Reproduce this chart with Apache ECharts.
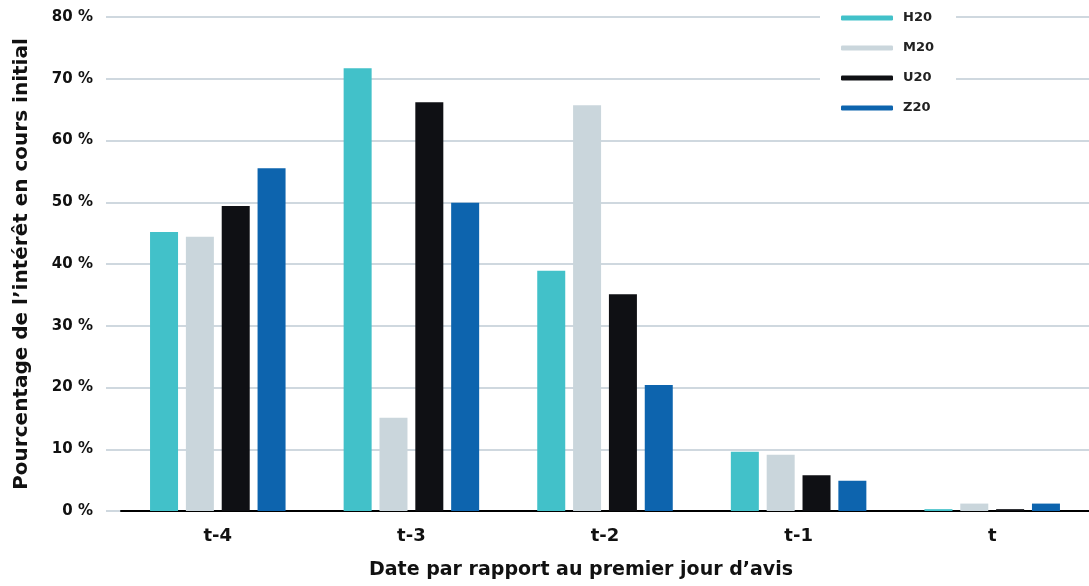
<!DOCTYPE html>
<html>
<head>
<meta charset="utf-8">
<script src="https://cdn.jsdelivr.net/npm/echarts@6/dist/echarts.min.js"></script>
<style>
  html, body { margin: 0; padding: 0; background: #fff; }
  #container { width: 1089px; height: 586px; }
</style>
</head>
<body>
<div id="container"></div>
<script>
var categories = ['t-4', 't-3', 't-2', 't-1', 't'];
var seriesNames = ['H20', 'M20', 'U20', 'Z20'];
var h20 = [45.2, 71.7, 38.9, 9.6, 0.3];
var m20 = [44.4, 15.1, 65.7, 9.1, 1.2];
var u20 = [49.4, 66.2, 35.1, 5.8, 0.3];
var z20 = [55.5, 49.9, 20.4, 4.9, 1.2];
var colors = ['#42c1c9', '#cad6dc', '#0f1014', '#0d64ae'];

var dom = document.getElementById('container');
var myChart = echarts.init(dom);
var font = 'DejaVu Sans';

function bar(name, data, color) {
    return {
        name: name,
        type: 'bar',
        xAxisIndex: 1,
        yAxisIndex: 1,
        barWidth: 28,
        barGap: '28%',
        itemStyle: { color: color },
        data: data
    };
}

var option = {
    animation: false,
    textStyle: { fontFamily: font },
    title: {
        text: 'Date par rapport au premier jour d’avis',
        left: 369,
        top: 561,
        padding: 0,
        textStyle: { fontFamily: font, fontSize: 19, fontWeight: 'bold', color: '#111' }
    },
    legend: {
        orient: 'vertical',
        left: 820,
        top: 0,
        padding: [10, 22, 12, 21],
        backgroundColor: '#fff',
        itemWidth: 52,
        itemHeight: 5,
        itemGap: 14,
        icon: 'roundRect',
        data: seriesNames,
        textStyle: { fontFamily: font, fontSize: 13, fontWeight: 'bold', color: '#222', lineHeight: 16, padding: [0, 0, 0, 5] }
    },
    grid: [
        { left: 106, right: 0, top: 17, bottom: 75 },
        { left: 121, width: 978, top: 17, bottom: 75 }
    ],
    xAxis: [
        { gridIndex: 0, type: 'value', show: false },
        {
            gridIndex: 1,
            type: 'category',
            data: categories,
            axisLine: { lineStyle: { color: '#000', width: 2 } },
            axisTick: { show: false },
            axisLabel: { margin: 16, fontSize: 18, fontWeight: 'bold', color: '#111', fontFamily: font }
        }
    ],
    yAxis: [
        {
            gridIndex: 0,
            type: 'value',
            min: 0,
            max: 80,
            interval: 10,
            name: 'Pourcentage de l’intérêt en cours initial',
            nameLocation: 'middle',
            nameGap: 74,
            nameTextStyle: { fontSize: 20, fontWeight: 'bold', color: '#111', fontFamily: font },
            axisLine: { show: false },
            axisTick: { show: false },
            axisLabel: { margin: 13, fontSize: 15, fontWeight: 'bold', color: '#111', fontFamily: font, formatter: '{value} %' },
            splitLine: { lineStyle: { color: '#cfd8df', width: 2 } }
        },
        { gridIndex: 1, type: 'value', min: 0, max: 80, show: false }
    ],
    series: [
        bar('H20', h20, colors[0]),
        bar('M20', m20, colors[1]),
        bar('U20', u20, colors[2]),
        bar('Z20', z20, colors[3])
    ]
};

if (option && typeof option === 'object') {
    myChart.setOption(option, true);
}
</script>
</body>
</html>
